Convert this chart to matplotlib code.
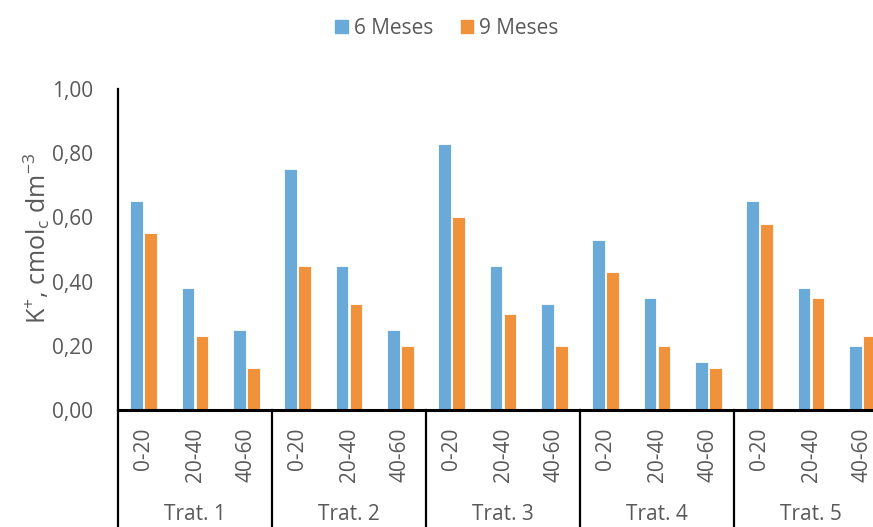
import matplotlib
matplotlib.use("Agg")
import matplotlib.pyplot as plt
import numpy as np
from matplotlib.lines import Line2D
from matplotlib.patches import Patch

plt.rcParams['font.family'] = ['Open Sans', 'DejaVu Sans']

groups = ["Trat. 1", "Trat. 2", "Trat. 3", "Trat. 4", "Trat. 5"]
depths = ["0-20", "20-40", "40-60"]
m6 = [0.65, 0.38, 0.25, 0.75, 0.45, 0.25, 0.83, 0.45, 0.33, 0.53, 0.35, 0.15, 0.65, 0.38, 0.20]
m9 = [0.55, 0.23, 0.13, 0.45, 0.33, 0.20, 0.60, 0.30, 0.20, 0.43, 0.20, 0.13, 0.58, 0.35, 0.23]
yticks = [0.0, 0.2, 0.4, 0.6, 0.8, 1.0]

blue = "#6AAAD9"
orange = "#F0913B"
gray = "#595959"

W, H = 873, 527
fig = plt.figure(figsize=(W / 100, H / 100), dpi=100)
x0, x1 = 118, 888
yb, yt = 410, 89
ax = fig.add_axes([x0 / W, (H - yb) / H, (x1 - x0) / W, (yb - yt) / H])

n = len(m6)
x = np.arange(n)
bw = 0.25
ax.bar(x - 0.135, m6, width=bw, color=blue, edgecolor="white", linewidth=0.6, label="6 Meses")
ax.bar(x + 0.135, m9, width=bw, color=orange, edgecolor="white", linewidth=0.6, label="9 Meses")

ax.set_xlim(-0.5, n - 0.5)
ax.set_ylim(0, 1.0)
ax.set_yticks(yticks)
ax.set_yticklabels([f"{v:.2f}".replace(".", ",") for v in yticks])
ax.tick_params(axis='y', length=0, pad=18, labelsize=15, labelcolor=gray)
ax.set_xticks([])
for s in ["top", "right"]:
    ax.spines[s].set_visible(False)
ax.spines["left"].set_linewidth(1.6)
ax.spines["bottom"].set_linewidth(2.2)
ax.spines["left"].set_color("black")
ax.spines["bottom"].set_color("black")

fig.text(37 / W, 1 - 238 / H,
         r"K$^{\mathregular{+}}$, cmol$_{\mathregular{c}}$ dm$^{\mathregular{-3}}$",
         rotation=90, ha="center", va="center", fontsize=18, color=gray)

# category labels
trans = ax.get_xaxis_transform()
for i in range(n):
    ax.text(x[i], -(428 - yb) / (yb - yt), depths[i % 3], transform=trans, rotation=90,
            ha="center", va="top", fontsize=15, color=gray, clip_on=False)
for g in range(len(groups)):
    ax.text(g * 3 + 1, -(515 - yb) / (yb - yt), groups[g], transform=trans,
            ha="center", va="center", fontsize=15, color=gray, clip_on=False)
for g in range(len(groups) + 1):
    ax.add_line(Line2D([g * 3 - 0.5, g * 3 - 0.5], [0, -(560 - yb) / (yb - yt)],
                       transform=trans, color="black", linewidth=1.6, clip_on=False))

handles = [Patch(color=blue, label="6 Meses"), Patch(color=orange, label="9 Meses")]
fig.legend(handles=handles, loc="center", bbox_to_anchor=(447 / W, 1 - 28 / H), ncol=2,
           frameon=False, fontsize=15, labelcolor=gray, handlelength=0.6, handleheight=0.6,
           handletextpad=0.3, columnspacing=1.3)

fig.savefig("out.png", dpi=100)
